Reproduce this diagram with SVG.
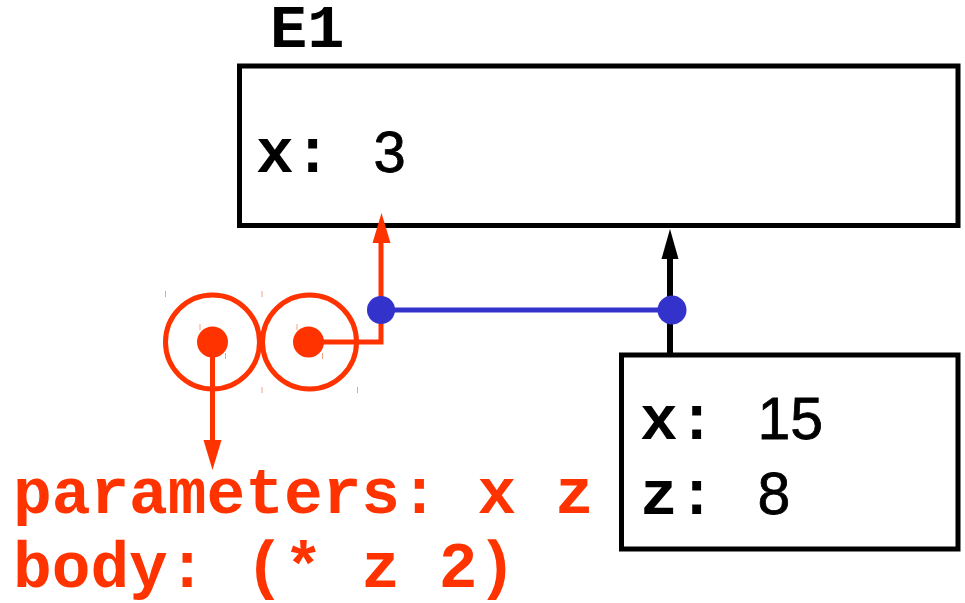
<svg xmlns="http://www.w3.org/2000/svg" width="965" height="603" viewBox="0 0 965 603">
<style>
.frame{fill:#fff;stroke:#000;stroke-width:5}
.lbl{font-family:"Liberation Mono","Courier New",monospace;font-weight:bold;fill:#000}
.val{font-family:"Liberation Sans",Arial,sans-serif;fill:#000;stroke:#000;stroke-width:0.8}
.red{font-family:"Liberation Mono","Courier New",monospace;font-weight:bold;fill:#FF3300;font-size:64.5px}
.ring{fill:none;stroke:#FF3300;stroke-width:5}
.dot{fill:#FF3300}
.bdot{fill:#3333CC}
.tick{stroke:#F6A080;stroke-width:1}
</style>
<rect width="965" height="603" fill="#fff"/>
<g id="E1">
<rect class="frame" x="239.5" y="66" width="718.5" height="159.5"/>
<text class="lbl" x="270" y="47" font-size="62">E1</text>
<text x="256" y="172"><tspan class="lbl" font-size="63">x: </tspan><tspan class="val" font-size="58" dx="4">3</tspan></text>
</g>
<g id="E2">
<rect class="frame" x="621.5" y="355" width="336.5" height="194"/>
<text x="640" y="439"><tspan class="lbl" font-size="63">x: </tspan><tspan class="val" font-size="59" dx="4">15</tspan></text>
<text x="640" y="514"><tspan class="lbl" font-size="63">z: </tspan><tspan class="val" font-size="59" dx="4">8</tspan></text>
</g>
<g id="procedure">
<circle class="ring" cx="212.5" cy="342" r="47"/>
<circle class="ring" cx="309.5" cy="342" r="47"/>
<circle class="dot" cx="212.5" cy="342" r="15.5"/>
<circle class="dot" cx="308.5" cy="342" r="15.5"/>
<g class="tick">
<line x1="165.5" y1="291" x2="165.5" y2="297"/>
<line x1="262" y1="291" x2="262" y2="297"/>
<line x1="262" y1="387" x2="262" y2="393"/>
<line x1="357.5" y1="387" x2="357.5" y2="393"/>
<line x1="200" y1="324" x2="200" y2="330"/>
<line x1="225.5" y1="353" x2="225.5" y2="359"/>
<line x1="297" y1="324" x2="297" y2="330"/>
<line x1="322.5" y1="353" x2="322.5" y2="359"/>
</g>
</g>
<g id="proclabel">
<text class="red" x="13" y="513">parameters: x z</text>
<text class="red" x="13" y="587">body: (* z 2)</text>
</g>
<g id="connectors">
<line x1="381" y1="310" x2="672" y2="310" stroke="#3333CC" stroke-width="5"/>
<polyline points="308.5,342 381,342 381,240" fill="none" stroke="#FF3300" stroke-width="5"/>
<polygon points="372.5,243 390.5,243 381.5,213" fill="#FF3300"/>
<line x1="212.5" y1="342" x2="212.5" y2="443" stroke="#FF3300" stroke-width="5"/>
<polygon points="203.5,440 221.5,440 212.5,470" fill="#FF3300"/>
<line x1="670" y1="355" x2="670" y2="256" stroke="#000" stroke-width="6"/>
<polygon points="661.5,259 678.5,259 670,229" fill="#000"/>
<circle class="bdot" cx="381" cy="310" r="14"/>
<circle class="bdot" cx="672" cy="310" r="14.5"/>
</g>
</svg>
